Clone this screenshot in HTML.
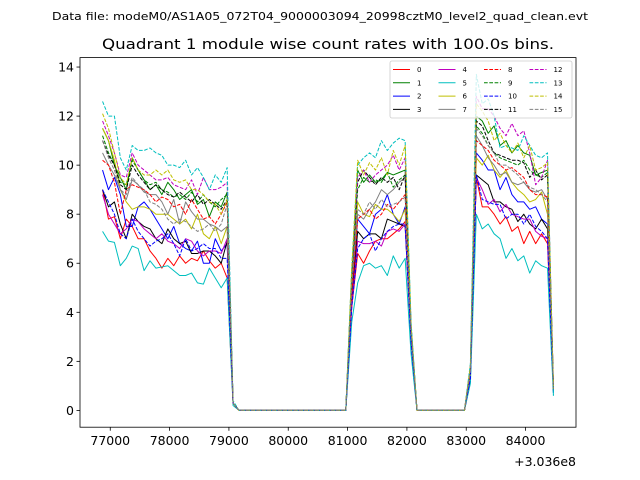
<!DOCTYPE html>
<html><head><meta charset="utf-8"><style>
html,body{margin:0;padding:0;background:#fff;}
svg{display:block;font-family:"DejaVu Sans","Liberation Sans",sans-serif;}
</style></head><body>
<svg id="chart" width="640" height="480" viewBox="0 0 640 480">
<rect width="640" height="480" fill="#fff"/>
<text x="320" y="20" font-size="11" text-anchor="middle" textLength="536" lengthAdjust="spacingAndGlyphs">Data file: modeM0/AS1A05_072T04_9000003094_20998cztM0_level2_quad_clean.evt</text>
<text x="328" y="49" font-size="14.5" text-anchor="middle" textLength="452" lengthAdjust="spacingAndGlyphs">Quadrant 1 module wise count rates with 100.0s bins.</text>
<g id="plot"></g>
<g id="axes"></g>
<g id="legend"></g>
</svg>
<script>
const t0 = 76870;
const binSize = 100;
const yTickValues = [0,2,4,6,8,10,12,14];
const xTickValues = [77000,78000,79000,80000,81000,82000,83000,84000];
const xOffsetLabel = "+3.036e8";
const seriesLabels = ["0","1","2","3","4","5","6","7","8","9","10","11","12","13","14","15"];
const s0 = [9.0,7.8,7.9,7.0,7.8,7.5,7.0,7.0,6.5,6.2,5.8,6.2,5.9,6.3,6.0,6.2,6.1,6.5,6.1,5.8,6.0,5.4, 0.3, 0,0,0,0,0,0,0,0,0,0,0,0,0,0,0,0,0,0,0, 4.2, 6.4,6.0,6.5,6.9,7.0,7.0,7.2,7.4,7.7, 3.0, 0,0,0,0,0,0,0,0,0, 1.4, 9.5,8.3,8.3,8.0,7.6,7.9,7.3,7.5,6.8,7.3,6.8,7.2,6.8, 0.8];
const s1 = [11.5,11.0,10.0,9.5,9.0,10.3,9.8,9.4,9.0,9.2,8.8,9.3,9.0,8.6,8.8,9.0,8.4,8.6,7.9,8.5,8.3,8.9, 0.3, 0,0,0,0,0,0,0,0,0,0,0,0,0,0,0,0,0,0,0, 5.5, 9.8,9.3,9.6,9.3,9.4,9.7,9.6,9.7,9.8, 3.4, 0,0,0,0,0,0,0,0,0, 1.7, 12.0,11.8,11.3,11.6,10.8,11.0,10.5,10.8,10.5,10.4,9.6,9.7,9.8, 0.9];
const s2 = [9.8,9.0,9.5,8.8,7.5,7.5,8.3,8.5,8.2,7.8,7.4,7.0,7.5,6.8,6.6,6.5,6.9,6.0,6.0,7.0,6.5,6.8, 0.3, 0,0,0,0,0,0,0,0,0,0,0,0,0,0,0,0,0,0,0, 4.6, 7.8,7.5,7.2,8.0,8.2,8.8,8.0,7.6,8.3, 2.8, 0,0,0,0,0,0,0,0,0, 1.3, 10.5,10.2,9.8,9.8,9.0,9.5,8.8,8.5,8.5,8.2,8.3,7.8,7.6, 0.8];
const s3 = [9.0,8.3,8.5,7.6,7.0,8.0,7.7,7.5,7.4,7.0,6.8,7.4,7.0,6.8,6.9,6.4,6.4,6.5,6.5,6.3,6.0,6.9, 0.3, 0,0,0,0,0,0,0,0,0,0,0,0,0,0,0,0,0,0,0, 4.5, 7.3,7.0,7.2,7.2,7.0,7.8,7.7,7.6,7.5, 2.9, 0,0,0,0,0,0,0,0,0, 1.4, 9.6,9.4,9.2,8.5,8.5,8.3,8.2,7.7,8.0,7.6,7.4,7.8,7.4, 0.8];
const s4 = [8.8,8.0,7.6,7.2,7.4,7.8,7.7,7.4,7.2,7.0,7.2,6.9,6.8,6.6,7.0,6.9,6.5,6.3,6.5,6.5,6.4,7.0, 0.3, 0,0,0,0,0,0,0,0,0,0,0,0,0,0,0,0,0,0,0, 4.3, 6.9,6.8,6.8,6.9,6.7,7.3,7.4,7.3,7.6, 2.9, 0,0,0,0,0,0,0,0,0, 1.4, 9.5,9.0,8.4,8.6,8.1,8.4,8.0,7.9,7.8,7.8,7.3,7.1,7.0, 0.8];
const s5 = [7.3,6.9,6.85,5.9,6.2,6.7,6.6,5.7,6.1,5.8,5.85,5.9,5.7,5.5,5.5,5.6,5.2,5.15,5.8,5.4,5.0,5.4, 0.2, 0,0,0,0,0,0,0,0,0,0,0,0,0,0,0,0,0,0,0, 3.6, 5.2,5.9,6.0,5.8,5.9,5.5,6.3,5.8,6.2, 2.3, 0,0,0,0,0,0,0,0,0, 1.1, 8.0,7.4,7.6,7.2,7.0,6.2,6.6,6.1,6.3,5.6,6.1,5.9,5.8, 0.6];
const s6 = [11.5,11.0,10.2,9.0,8.5,8.2,8.3,8.3,8.2,8.0,8.0,8.0,7.8,7.6,7.8,7.4,8.0,7.2,7.0,7.5,6.8,7.5, 0.3, 0,0,0,0,0,0,0,0,0,0,0,0,0,0,0,0,0,0,0, 5.0, 8.5,8.0,7.9,8.4,8.2,8.2,8.0,7.7,8.2, 3.1, 0,0,0,0,0,0,0,0,0, 1.5, 10.3,10.0,10.4,9.8,9.5,9.8,9.3,9.0,8.8,8.5,8.6,8.9,8.0, 0.8];
const s7 = [10.5,10.0,9.6,9.0,8.6,9.4,9.2,8.9,8.8,8.8,8.5,8.0,8.6,7.6,8.5,8.1,7.8,7.8,7.6,7.5,7.3,7.5, 0.3, 0,0,0,0,0,0,0,0,0,0,0,0,0,0,0,0,0,0,0, 5.0, 8.0,7.8,8.2,8.5,9.0,8.8,9.0,9.3,9.5, 3.2, 0,0,0,0,0,0,0,0,0, 1.6, 11.2,10.8,10.3,10.0,9.6,9.7,9.3,9.2,9.3,9.0,8.9,9.0,8.6, 0.9];
const s8 = [10.2,10.0,9.3,8.0,9.0,9.2,9.1,9.0,8.8,8.5,8.7,8.6,8.3,8.4,8.0,8.6,8.2,7.8,7.9,7.6,8.0,8.5, 0.3, 0,0,0,0,0,0,0,0,0,0,0,0,0,0,0,0,0,0,0, 4.8, 7.8,8.0,8.2,7.8,8.0,8.4,8.2,8.5,8.8, 3.2, 0,0,0,0,0,0,0,0,0, 1.6, 11.0,10.8,10.6,10.2,10.0,9.8,9.9,9.7,9.5,9.0,8.8,8.8,8.7, 0.9];
const s9 = [11.2,10.5,10.0,9.3,9.2,10.2,9.8,9.4,9.2,9.3,9.0,8.9,8.7,8.8,8.6,8.9,8.5,8.8,8.5,8.3,8.6,8.8, 0.3, 0,0,0,0,0,0,0,0,0,0,0,0,0,0,0,0,0,0,0, 5.5, 9.0,9.5,9.3,9.4,9.3,9.7,9.1,9.4,9.6, 3.4, 0,0,0,0,0,0,0,0,0, 1.7, 11.6,11.3,10.8,10.5,10.3,10.2,10.1,10.0,10.2,9.8,9.6,9.5,9.7, 0.9];
const s10 = [9.0,8.5,8.0,7.2,7.0,7.8,7.3,7.0,6.7,6.9,7.0,7.2,6.8,6.3,7.0,6.5,6.6,6.8,6.6,6.6,6.2,6.2, 0.3, 0,0,0,0,0,0,0,0,0,0,0,0,0,0,0,0,0,0,0, 4.2, 6.6,7.0,7.2,6.5,7.0,7.3,7.5,7.6,7.6, 2.8, 0,0,0,0,0,0,0,0,0, 1.3, 9.6,8.6,8.5,8.4,8.4,7.8,8.0,8.0,7.6,8.0,7.5,7.3,7.0, 0.7];
const s11 = [11.0,10.4,10.0,9.2,9.0,10.0,9.6,9.3,9.0,9.2,9.0,8.8,8.7,8.9,8.7,8.5,8.8,8.4,8.6,8.4,8.2,8.6, 0.3, 0,0,0,0,0,0,0,0,0,0,0,0,0,0,0,0,0,0,0, 5.4, 9.3,9.8,9.5,9.2,9.5,9.3,9.5,9.0,9.6, 3.3, 0,0,0,0,0,0,0,0,0, 1.7, 11.8,11.6,11.0,10.5,10.4,10.3,10.2,10.2,10.1,9.5,9.8,9.4,9.6, 0.9];
const s12 = [11.8,11.2,10.5,9.6,9.5,10.5,10.0,9.8,9.6,9.4,9.4,9.5,9.2,9.1,9.0,9.4,8.8,9.5,9.0,9.0,9.1,9.3, 0.3, 0,0,0,0,0,0,0,0,0,0,0,0,0,0,0,0,0,0,0, 5.6, 9.5,9.8,9.3,9.6,9.8,10.0,10.4,9.8,10.3, 3.5, 0,0,0,0,0,0,0,0,0, 1.8, 12.8,12.3,12.3,12.0,11.5,11.2,11.7,11.2,11.4,10.5,9.2,9.5,10.2, 1.0];
const s13 = [12.6,12.0,12.0,10.3,9.8,10.8,10.6,10.6,10.7,10.5,10.4,10.0,10.0,9.9,10.2,9.6,9.9,9.5,9.0,9.6,9.3,9.9, 0.4, 0,0,0,0,0,0,0,0,0,0,0,0,0,0,0,0,0,0,0, 5.8, 10.0,10.3,10.5,10.3,11.0,10.6,10.9,11.1,11.0, 3.6, 0,0,0,0,0,0,0,0,0, 1.9, 13.7,12.5,12.7,12.0,10.7,10.8,10.7,10.6,11.2,10.8,10.4,10.3,10.5, 0.6];
const s14 = [12.1,11.5,10.5,9.5,9.2,10.3,9.8,9.6,9.6,9.8,9.6,9.8,9.4,9.3,9.4,9.0,9.0,8.8,8.5,8.4,8.0,8.6, 0.3, 0,0,0,0,0,0,0,0,0,0,0,0,0,0,0,0,0,0,0, 5.8, 10.2,9.6,10.1,9.8,10.3,9.6,10.6,10.0,10.8, 3.5, 0,0,0,0,0,0,0,0,0, 1.8, 12.5,12.2,11.8,11.0,11.3,10.8,10.5,10.9,10.3,10.8,9.8,9.9,10.1, 1.0];
const s15 = [11.0,10.3,9.8,9.0,8.8,9.5,9.2,9.0,8.5,8.4,8.2,7.8,7.6,7.8,7.7,7.5,7.3,7.4,7.6,7.3,7.6,8.4, 0.3, 0,0,0,0,0,0,0,0,0,0,0,0,0,0,0,0,0,0,0, 5.1, 8.2,8.0,8.5,8.2,8.6,8.3,8.4,8.5,8.7, 3.2, 0,0,0,0,0,0,0,0,0, 1.6, 11.5,11.2,10.8,10.5,10.0,10.0,9.8,9.6,9.3,9.1,9.0,8.8,8.5, 0.9];
const seriesValues = [s0,s1,s2,s3,s4,s5,s6,s7,s8,s9,s10,s11,s12,s13,s14,s15];

const colors = ["#ff0000","#008000","#0000ff","#000000","#bf00bf","#00bfbf","#bfbf00","#808080"];
const NS = "http://www.w3.org/2000/svg";
const L = 80, R = 576, T = 57.6, B = 427.2;
let tMin = Infinity, tMax = -Infinity, vMax = 0;
seriesValues.forEach(s => { s.forEach((v, i) => { const t = t0 + i*binSize; tMin = Math.min(tMin, t); tMax = Math.max(tMax, t); vMax = Math.max(vMax, v); }); });
const xPad = (tMax - tMin)*0.05, yPad = vMax*0.05;
const xDom = [tMin - xPad, tMax + xPad], yDom = [-yPad, vMax + yPad];
const xs = t => L + (t - xDom[0])/(xDom[1]-xDom[0])*(R-L);
const ys = v => B - (v - yDom[0])/(yDom[1]-yDom[0])*(B-T);
function mk(tag, attrs, parent){ const e = document.createElementNS(NS, tag); for (const k in attrs) e.setAttribute(k, attrs[k]); parent.appendChild(e); return e; }

const plot = document.getElementById('plot');
seriesValues.forEach((s, si) => {
  const d = s.map((v, i) => (i ? 'L' : 'M') + xs(t0 + i*binSize).toFixed(2) + ' ' + ys(v).toFixed(2)).join(' ');
  const p = mk('path', {d: d, fill: 'none', stroke: colors[si % 8], 'stroke-width': 1, 'stroke-linejoin': 'round'}, plot);
  if (si >= 8) p.setAttribute('stroke-dasharray', '3.7 1.6');
  
  
});

const axes = document.getElementById('axes');
const frame = mk('rect', {x: L, y: T, width: R-L, height: B-T, fill: 'none', stroke: '#000', 'stroke-width': 0.8}, axes);


yTickValues.forEach(v => {
  const y = ys(v);
  const tk = mk('line', {x1: L-3.5, x2: L, y1: y, y2: y, stroke: '#000', 'stroke-width': 0.8}, axes);
  
  
  const lb = mk('text', {x: L-6, y: y+4.5, 'font-size': 12.5, 'text-anchor': 'end'}, axes);
  lb.textContent = v;
  
  
});
xTickValues.forEach(v => {
  const x = xs(v);
  const tk = mk('line', {x1: x, x2: x, y1: B, y2: B+3.5, stroke: '#000', 'stroke-width': 0.8}, axes);
  
  
  const lb = mk('text', {x: x, y: B+18, 'font-size': 12.5, 'text-anchor': 'middle'}, axes);
  lb.textContent = v;
  
  
});
const off = mk('text', {x: R, y: 466, 'font-size': 12.5, 'text-anchor': 'end'}, axes);
off.textContent = xOffsetLabel;



const lg = document.getElementById('legend');
const box = mk('rect', {x: 390, y: 61, width: 182, height: 57, rx: 2, fill: '#fff', 'fill-opacity': 0.8, stroke: '#ccc', 'stroke-width': 0.8}, lg);


seriesLabels.forEach((lab, i) => {
  const col = Math.floor(i/4), row = i % 4;
  const x = 393 + col*45.5, y = 69.5 + row*13.3;
  const ln = mk('line', {x1: x, x2: x+17, y1: y, y2: y, stroke: colors[i % 8], 'stroke-width': 1}, lg);
  if (i >= 8) ln.setAttribute('stroke-dasharray', '3.7 1.6');
  
  
  const tx = mk('text', {x: x+24, y: y+2.5, 'font-size': 7}, lg);
  tx.textContent = lab;
  
  
});
</script>
</body></html>
